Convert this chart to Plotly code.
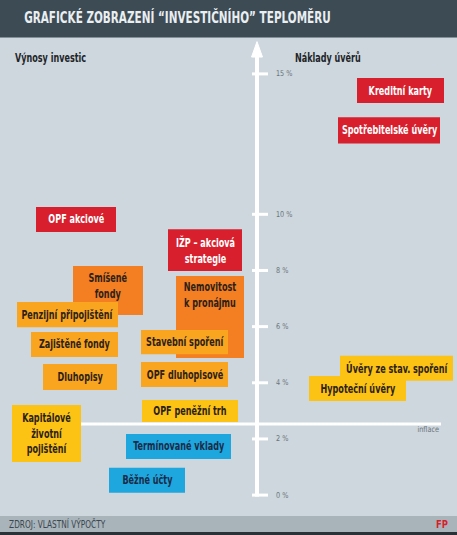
import json
import plotly.graph_objects as go

# ---------------- data ----------------
products = [
    "Kreditní karty", "Spotřebitelské úvěry", "OPF akciové", "IŽP – akciová<br>strategie",
    "Smíšené<br>fondy", "Nemovitost<br>k pronájmu", "Penzijní připojištění", "Zajištěné fondy",
    "Stavební spoření", "Dluhopisy", "OPF dluhopisové", "OPF peněžní trh",
    "Kapitálové<br>životní<br>pojištění", "Termínované vklady", "Běžné účty",
    "Úvěry ze stav. spoření", "Hypoteční úvěry",
]
rate_low = [13.96, 12.52, 9.37, 7.98, 6.41, 4.88, 5.98, 4.92, 5.02, 3.74, 3.85, 2.60, 1.18, 1.29, 0.08, 4.07, 3.35]
rate_high = [14.85, 13.46, 10.26, 9.47, 8.16, 7.80, 6.88, 5.81, 5.88, 4.67, 4.74, 3.39, 3.21, 2.18, 0.97, 4.96, 4.24]
risk = ["high", "high", "high", "high", "elevated", "elevated", "medium", "medium", "medium",
        "medium", "medium", "low", "low", "minimal", "minimal", "low", "low"]
tick_values = [0, 2, 4, 6, 8, 10, 15]
tick_labels = ["0 %", "2 %", "4 %", "6 %", "8 %", "10 %", "15 %"]
inflation = 2.53

# ---------------- layout helpers (horizontal placement of boxes) ----------------
box_left = [357, 338, 36, 168, 73, 176, 17, 31, 141, 43, 141, 142, 12, 126, 109, 340, 309]
box_right = [444, 440, 116, 242, 143, 244, 118, 118, 228, 117, 228, 238, 81, 231, 185, 453, 406]
label_y_override = {4: 7.45, 5: 7.11}

fill_colors = {"high": "#d81f2d", "elevated": "#f47e22", "medium": "#f9a51f",
               "low": "#fcc315", "minimal": "#1ea6df"}
text_colors = {"high": "#ffffff", "elevated": "#2b2118", "medium": "#2b2118",
               "low": "#2b2118", "minimal": "#1b2b45"}

FONT = "Liberation Sans Narrow, Arial Narrow, DejaVu Sans Condensed, Roboto, sans-serif"
BG = "#cdd7dd"
W, H = 457, 535
# y axis: percent; pixel mapping py = 495.1 - 28.08 * pct
y_top = 495.1 / 28.08
y_bot = (495.1 - H) / 28.08

fig = go.Figure()
shapes = []
annotations = []
squeeze = []  # horizontal condensing factor per annotation (for condensed look)


def add_ann(sq, **kw):
    annotations.append(kw)
    squeeze.append([sq, kw.get("xanchor", "center")])


# inflation line
shapes.append(dict(type="line", xref="x", yref="y", x0=70, x1=441, y0=inflation, y1=inflation,
                   line=dict(color="white", width=3), layer="below"))
# vertical axis
shapes.append(dict(type="line", xref="x", yref="y", x0=257, x1=257, y0=-0.05, y1=15.75,
                   line=dict(color="white", width=4), layer="below"))
shapes.append(dict(type="path", xref="x", yref="y",
                   path="M 251.5 15.6 L 257 16.15 L 262.5 15.6 Z",
                   fillcolor="white", line=dict(color="white", width=1), layer="below"))
for v, lab in zip(tick_values, tick_labels):
    shapes.append(dict(type="line", xref="x", yref="y", x0=252, x1=268, y0=v, y1=v,
                       line=dict(color="white", width=3), layer="below"))
    add_ann(0.9, x=274, y=v, xref="x", yref="y", text=lab, showarrow=False,
            xanchor="left", yanchor="middle",
            font=dict(family=FONT, size=8, color="#6a747a"))
add_ann(0.9, x=441, y=2.33, xref="x", yref="y", text="inflace", showarrow=False,
        xanchor="right", yanchor="middle",
        font=dict(family=FONT, size=8, color="#6a747a"))

# boxes
for i, name in enumerate(products):
    r = risk[i]
    shapes.append(dict(type="rect", xref="x", yref="y", x0=box_left[i], x1=box_right[i],
                       y0=rate_low[i], y1=rate_high[i], fillcolor=fill_colors[r],
                       line=dict(width=0), layer="above"))
    ty = label_y_override.get(i, (rate_low[i] + rate_high[i]) / 2)
    add_ann(0.75, x=(box_left[i] + box_right[i]) / 2, y=ty, xref="x", yref="y",
            text="<b>" + name + "</b>", showarrow=False,
            xanchor="center", yanchor="middle", align="center",
            font=dict(family=FONT, size=12, color=text_colors[r]))

# header / footer
shapes.append(dict(type="rect", xref="paper", yref="paper", x0=0, x1=1, y0=1 - 37.5 / H, y1=1,
                   fillcolor="#3c4b54", line=dict(width=0), layer="below"))
shapes.append(dict(type="rect", xref="paper", yref="paper", x0=0, x1=1, y0=1 - 532 / H, y1=1 - 516 / H,
                   fillcolor="#a9b4ba", line=dict(width=0), layer="below"))
shapes.append(dict(type="rect", xref="paper", yref="paper", x0=0, x1=1, y0=0, y1=1 - 532 / H,
                   fillcolor="#2a3238", line=dict(width=0), layer="below"))

add_ann(0.775, x=22 / W, y=1 - 17.5 / H, xref="paper", yref="paper",
        text="<b>GRAFICKÉ ZOBRAZENÍ “INVESTIČNÍHO” TEPLOMĚRU</b>",
        showarrow=False, xanchor="left", yanchor="middle",
        font=dict(family=FONT, size=15, color="#e9eef1"))
add_ann(0.69, x=13 / W, y=1 - 58 / H, xref="paper", yref="paper",
        text="<b>Výnosy investic</b>", showarrow=False, xanchor="left", yanchor="middle",
        font=dict(family=FONT, size=13, color="#1e2428"))
add_ann(0.69, x=293 / W, y=1 - 58 / H, xref="paper", yref="paper",
        text="<b>Náklady úvěrů</b>", showarrow=False, xanchor="left", yanchor="middle",
        font=dict(family=FONT, size=13, color="#1e2428"))
add_ann(0.82, x=7 / W, y=1 - 524 / H, xref="paper", yref="paper",
        text="ZDROJ: VLASTNÍ VÝPOČTY", showarrow=False, xanchor="left", yanchor="middle",
        font=dict(family=FONT, size=10, color="#3a4750"))
add_ann(0.85, x=450 / W, y=1 - 524 / H, xref="paper", yref="paper",
        text="<b>FP</b>", showarrow=False, xanchor="right", yanchor="middle",
        font=dict(family=FONT, size=11, color="#d81f2d"))

fig.update_layout(
    width=W, height=H,
    margin=dict(l=0, r=0, t=0, b=0),
    paper_bgcolor=BG, plot_bgcolor=BG,
    xaxis=dict(range=[0, W], visible=False, fixedrange=True),
    yaxis=dict(range=[y_bot, y_top], visible=False, fixedrange=True),
    shapes=shapes, annotations=annotations,
    showlegend=False,
)

post = (
    "document.body.style.margin='0';document.body.style.overflow='hidden';"
    "try{var SQ=" + json.dumps(squeeze) + ";"
    "var gd=document.getElementById('{plot_id}');"
    "gd.querySelectorAll('g.annotation').forEach(function(g){"
    "var i=+g.getAttribute('data-index');var e=SQ[i];if(!e||e[0]===1)return;"
    "var t=g.querySelector('text.annotation-text');if(!t)return;"
    "var b=t.getBBox();"
    "var px=e[1]==='left'?b.x:(e[1]==='right'?b.x+b.width:b.x+b.width/2);"
    "t.setAttribute('transform','translate('+px+',0) scale('+e[0]+',1) translate('+(-px)+',0)');"
    "});}catch(err){}"
)

fig.write_html("out.html", config={"displayModeBar": False}, post_script=post)
